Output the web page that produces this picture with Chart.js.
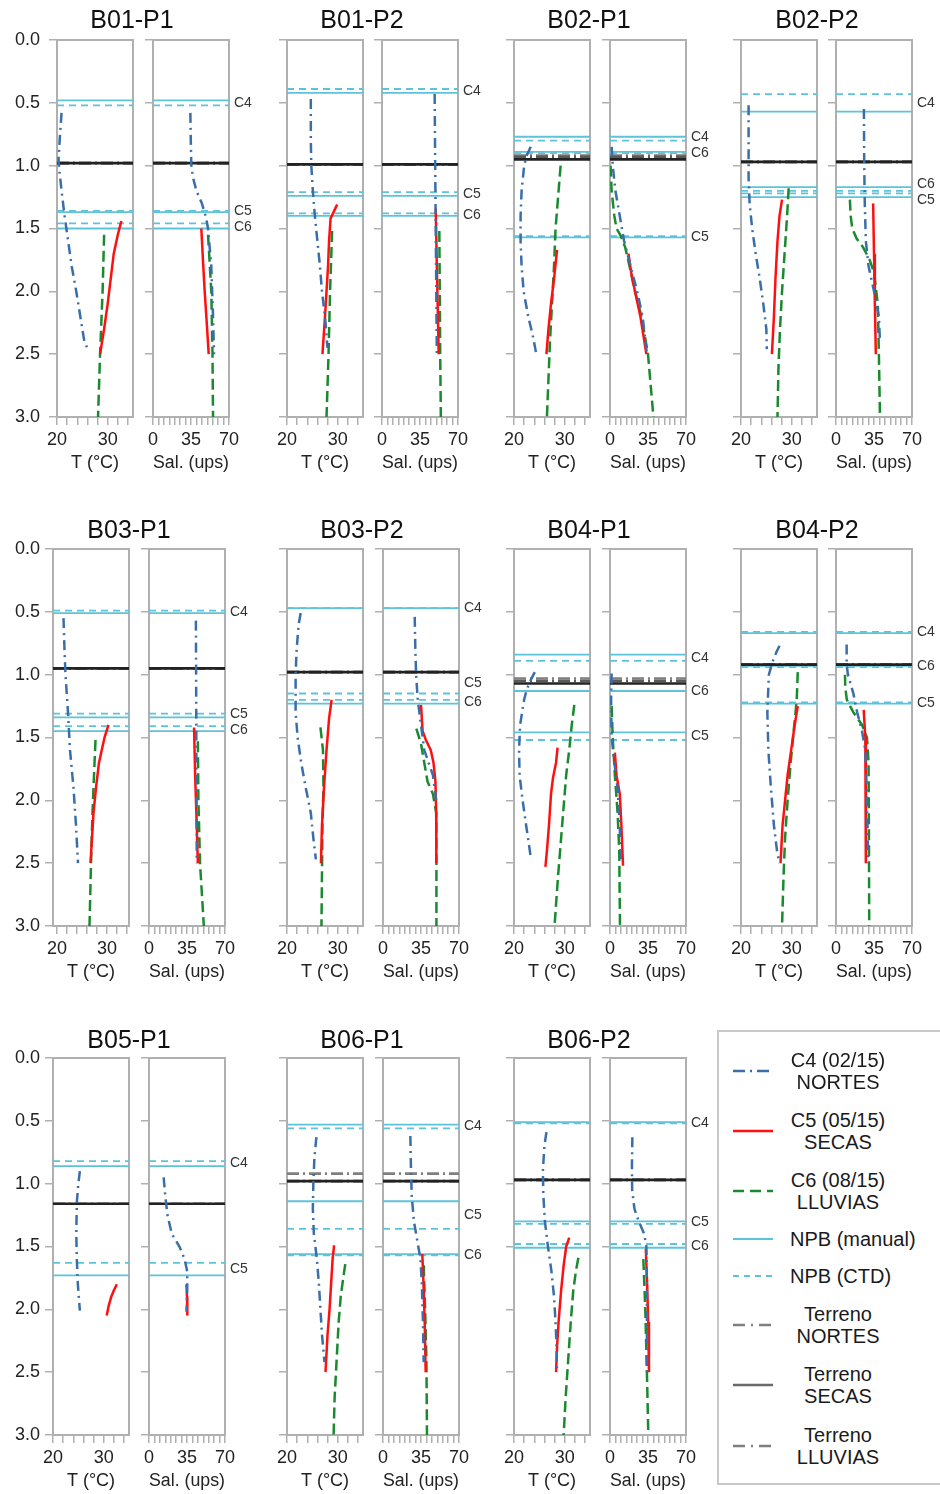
<!DOCTYPE html>
<html><head><meta charset="utf-8">
<script src="https://cdn.jsdelivr.net/npm/chart.js@4.4.1/dist/chart.umd.min.js"></script>
<style>
html,body{margin:0;padding:0;background:#fff;}
body{width:940px;height:1494px;position:relative;overflow:hidden;font-family:"Liberation Sans",Arial,sans-serif;}
canvas{position:absolute;}
.ttl{position:absolute;font-size:25px;color:#111;transform:translate(-50%,-50%);white-space:nowrap;}
#legend{position:absolute;left:717px;top:1030px;width:240px;height:455px;border:2px solid #c8c8c8;box-sizing:border-box;}
.lt{position:absolute;font-size:20px;color:#1a1a1a;line-height:22px;white-space:nowrap;}
.ls{position:absolute;}
</style></head><body>
<div id="legend"></div>
<script>
// ---------------- DATA ----------------
const PANELS = ['B01-P1','B01-P2','B02-P1','B02-P2','B03-P1','B03-P2','B04-P1','B04-P2','B05-P1','B06-P1','B06-P2'];
const CAMPAIGNS = ['C4','C5','C6'];
const DEPTH_TICKS = [0,0.5,1,1.5,2,2.5,3];
const T_TICKS = [20,22,24,26,28,30,32,34];
const T_LABELS = [20,30];
const S_TICKS = [0,5,10,15,20,25,30,35,40,45,50,55,60,65,70];
const S_LABELS = [0,35,70];
const T_RANGE = [[20,35],[20,35],[20,35],[20,35],[19.2,34.4],[20,35],[20,35],[20,35],[20,35],[20,35],[20,35]];
const S_RANGE = [0,70];

// NPB levels (m) per panel: [C4, C5, C6]
const npbManual = [[0.48,1.37,1.50],[0.42,1.24,1.40],[0.77,1.57,0.89],[0.57,1.25,1.17],[0.51,1.34,1.45],[0.47,0.98,1.23],[0.84,1.46,1.13],[0.67,1.23,0.93],[0.86,1.73,null],[0.53,1.14,1.56],[0.51,1.30,1.51]];
const npbCTD = [[0.52,1.36,1.46],[0.39,1.21,1.38],[0.80,1.56,0.90],[0.43,1.22,1.20],[0.49,1.31,1.41],[0.47,1.15,1.20],[0.89,1.52,1.13],[0.66,1.22,0.94],[0.82,1.63,null],[0.56,1.36,1.57],[0.52,1.32,1.48]];
// Terreno per panel: [NORTES, SECAS, LLUVIAS]
const terreno = [[0.98,0.98,0.98],[0.99,0.99,0.99],[0.92,0.95,0.93],[0.97,0.97,0.97],[0.95,0.95,0.95],[0.98,0.98,0.98],[1.03,1.07,1.05],[0.92,0.92,0.92],[1.16,1.16,null],[0.92,0.98,0.98],[0.97,0.97,0.97]];

// Profiles: [depth, value]
const T_NORTES = [
 [[0.58,20.9],[0.75,20.6],[0.95,20.3],[1.05,20.5],[1.2,20.9],[1.4,21.5],[1.6,22.2],[1.8,22.9],[2.0,23.8],[2.2,24.6],[2.4,25.4],[2.48,26.3]],
 [[0.47,24.7],[0.8,24.7],[1.0,24.8],[1.2,25.1],[1.4,25.5],[1.6,26.0],[1.8,26.5],[2.0,26.9],[2.2,27.5],[2.45,28.0]],
 [[0.85,23.3],[0.92,22.5],[1.0,22.0],[1.2,21.5],[1.4,21.3],[1.6,21.3],[1.8,21.5],[2.0,21.9],[2.2,22.8],[2.35,23.7],[2.5,24.4]],
 [[0.52,21.5],[0.8,21.5],[1.1,21.5],[1.3,21.7],[1.5,22.2],[1.7,22.9],[1.9,23.7],[2.1,24.4],[2.3,25.0],[2.46,25.1]],
 [[0.55,21.3],[0.8,21.5],[1.0,21.7],[1.3,22.2],[1.6,22.6],[1.9,23.3],[2.2,23.8],[2.5,24.2]],
 [[0.51,22.7],[0.6,22.3],[0.8,21.9],[1.0,21.7],[1.3,21.7],[1.5,22.1],[1.7,22.8],[1.9,23.7],[2.1,24.7],[2.3,25.2],[2.47,25.7]],
 [[0.98,24.1],[1.05,23.2],[1.12,22.5],[1.2,22.0],[1.4,21.2],[1.6,21.0],[1.8,21.1],[2.0,21.7],[2.2,22.4],[2.45,23.3]],
 [[0.77,27.6],[0.82,27.0],[0.9,26.2],[1.0,25.5],[1.3,25.2],[1.6,25.4],[1.9,25.9],[2.2,26.5],[2.4,27.1],[2.5,27.6]],
 [[0.9,25.3],[1.0,25.0],[1.15,24.7],[1.4,24.6],[1.6,24.7],[1.8,24.9],[2.01,25.3]],
 [[0.63,25.8],[0.8,25.4],[1.0,25.2],[1.2,25.1],[1.4,25.3],[1.6,25.9],[1.8,26.3],[2.0,26.6],[2.2,26.9],[2.42,27.4]],
 [[0.59,26.4],[0.7,26.0],[0.9,25.7],[1.1,25.8],[1.3,26.1],[1.5,26.7],[1.7,27.4],[1.9,27.9],[2.1,28.2],[2.3,28.4],[2.5,28.5]]
];
const T_SECAS = [
 [[1.44,32.7],[1.55,32.0],[1.7,31.2],[1.9,30.6],[2.1,30.0],[2.3,29.3],[2.5,28.5]],
 [[1.31,29.9],[1.36,29.3],[1.42,28.6],[1.6,28.3],[1.8,28.1],[2.0,27.8],[2.2,27.5],[2.5,27.0]],
 [[1.67,28.5],[1.9,27.9],[2.1,27.3],[2.3,26.8],[2.5,26.4]],
 [[1.27,28.1],[1.4,27.6],[1.6,27.2],[1.9,26.8],[2.2,26.5],[2.5,26.1]],
 [[1.4,30.3],[1.5,29.5],[1.7,28.4],[1.9,27.8],[2.1,27.3],[2.3,27.0],[2.5,26.7]],
 [[1.2,28.8],[1.35,28.3],[1.6,27.8],[1.9,27.3],[2.2,26.9],[2.5,26.7]],
 [[1.58,28.6],[1.7,28.3],[1.82,27.7],[1.95,27.3],[2.2,26.9],[2.4,26.5],[2.53,26.2]],
 [[1.25,31.2],[1.4,30.6],[1.6,29.9],[1.8,29.2],[2.0,28.7],[2.2,28.2],[2.5,27.8]],
 [[1.8,32.6],[1.85,32.0],[1.9,31.5],[1.97,31.0],[2.05,30.6]],
 [[1.49,29.3],[1.6,29.0],[1.8,28.7],[2.0,28.4],[2.2,28.0],[2.5,27.6]],
 [[1.43,30.9],[1.5,30.3],[1.65,29.8],[1.85,29.3],[2.1,28.8],[2.3,28.5],[2.5,28.3]]
];
const T_LLUVIAS = [
 [[1.55,29.3],[2.0,29.0],[2.5,28.5],[3.0,28.1]],
 [[1.52,28.9],[2.0,28.5],[2.5,28.2],[3.0,27.8]],
 [[1.0,29.2],[1.2,28.8],[1.5,28.2],[1.8,27.9],[2.1,27.5],[2.4,27.1],[2.7,26.8],[3.0,26.5]],
 [[1.18,29.4],[1.4,29.1],[1.7,28.6],[2.0,28.1],[2.3,27.7],[2.6,27.4],[3.0,27.2]],
 [[1.52,27.7],[1.8,27.4],[2.1,27.1],[2.5,26.8],[3.0,26.5]],
 [[1.42,26.6],[1.6,27.1],[1.9,27.2],[2.2,27.0],[2.6,26.9],[3.0,26.8]],
 [[1.24,31.9],[1.4,31.4],[1.6,30.9],[1.8,30.3],[2.0,29.9],[2.3,29.3],[2.6,28.7],[3.0,28.0]],
 [[0.98,31.2],[1.2,31.0],[1.45,30.4],[1.7,29.8],[2.0,29.2],[2.3,28.7],[2.6,28.4],[3.0,28.1]],
 null,
 [[1.64,31.5],[1.75,31.1],[1.9,30.6],[2.1,30.2],[2.4,29.8],[2.7,29.4],[3.0,29.2]],
 [[1.59,32.7],[1.7,32.2],[1.85,31.7],[2.1,31.2],[2.4,30.7],[2.7,30.2],[3.0,29.8]]
];
const S_NORTES = [
 [[0.58,34.4],[0.8,34.8],[1.0,35.3],[1.1,37],[1.2,40],[1.3,45],[1.4,48.5],[1.5,50.7],[1.8,53.7],[2.2,55.3],[2.5,56.2]],
 [[0.43,48.5],[1.0,49.0],[1.5,49.5],[2.0,50.0],[2.5,50.5]],
 [[0.85,1.5],[1.0,2.5],[1.2,5],[1.4,9],[1.6,13],[1.8,19],[2.0,25],[2.2,30],[2.5,34]],
 [[0.55,25.7],[1.0,26],[1.3,26.5],[1.6,27.5],[1.8,30],[2.0,35],[2.2,39.5],[2.4,40.5]],
 [[0.57,43.2],[1.0,43.4],[1.5,43.6],[2.0,43.8],[2.5,44.0]],
 [[0.54,29.2],[0.8,29.8],[1.0,30.5],[1.2,32],[1.4,35],[1.6,38],[1.7,42],[1.8,46],[2.0,49]],
 [[0.99,1.5],[1.2,1.0],[1.5,1.5],[1.7,4],[1.9,7],[2.2,9],[2.5,10]],
 [[0.76,9.8],[0.92,9.8],[1.0,11],[1.15,16],[1.3,19.5],[1.45,24],[1.6,27],[1.9,28.2],[2.2,29],[2.5,29.7]],
 [[0.95,13.5],[1.1,15],[1.25,17],[1.4,21],[1.5,28],[1.6,32.8],[1.7,35.2],[1.85,35.2],[2.02,34.5]],
 [[0.62,25.2],[0.9,25.8],[1.1,26.5],[1.3,28.5],[1.45,31.5],[1.6,34.5],[1.8,35.8],[2.1,36.8],[2.42,37.5]],
 [[0.63,20.6],[0.85,20.2],[1.05,20.4],[1.2,22.5],[1.3,26.5],[1.4,31.5],[1.5,33.5],[1.8,34],[2.2,34],[2.5,34]]
];
const S_SECAS = [
 [[1.5,44.5],[1.75,46],[2.0,47.6],[2.25,49.5],[2.5,51.3]],
 [[1.34,49.5],[1.8,50.5],[2.2,51.5],[2.5,52.2]],
 [[1.7,17],[1.85,19.5],[2.0,23],[2.2,28],[2.5,33.5]],
 [[1.3,34.2],[1.7,35],[2.1,35.8],[2.5,36.7]],
 [[1.42,41.5],[1.8,42.5],[2.2,44],[2.5,45]],
 [[1.24,35],[1.45,36.5],[1.52,39.5],[1.6,44],[1.7,46.5],[1.85,48.3],[2.1,49],[2.5,49.1]],
 [[1.62,4.5],[1.8,6],[1.95,9],[2.2,10.5],[2.52,12]],
 [[1.28,25.5],[1.5,27],[1.8,27.5],[2.2,27.5],[2.5,27.5]],
 [[1.8,34.5],[1.9,35.0],[2.05,35.3]],
 [[1.56,36.2],[1.8,37.3],[2.1,38.4],[2.5,39.3]],
 [[1.52,33],[1.8,34.2],[2.1,35.2],[2.5,35.9]]
];
const S_LLUVIAS = [
 [[1.55,50.7],[2.0,53.7],[2.5,54.8],[3.0,55.3]],
 [[1.52,52.8],[2.0,53.2],[2.5,53.6],[3.0,54.2]],
 [[1.0,0.5],[1.2,1.5],[1.4,4],[1.5,6],[1.56,10],[1.65,14],[1.8,18],[2.0,23],[2.2,29],[2.5,35],[2.75,37.5],[3.0,40]],
 [[1.27,12.8],[1.4,13.5],[1.5,15],[1.58,19],[1.65,25],[1.75,31],[1.85,35],[2.1,38.5],[2.5,39.5],[3.0,40.5]],
 [[1.53,45],[2.0,45.5],[2.5,47],[3.0,50.5]],
 [[1.43,30.7],[1.55,35],[1.7,38],[1.85,41],[1.95,46],[2.1,49],[2.5,49.2],[3.0,49.2]],
 [[1.25,1.5],[1.5,2.5],[1.8,4.5],[2.1,7],[2.4,8.5],[3.0,9.2]],
 [[1.0,8.3],[1.1,8.5],[1.2,10],[1.3,16],[1.4,24],[1.5,28.5],[1.7,30],[2.2,30.3],[3.0,30.6]],
 null,
 [[1.65,37.5],[2.0,38.8],[2.4,40],[3.0,40.5]],
 [[1.6,30.7],[2.0,32.5],[2.5,34],[3.0,35.3]]
];
const LEGEND_LABELS = [['C4 (02/15)','NORTES'],['C5 (05/15)','SECAS'],['C6 (08/15)','LLUVIAS'],['NPB (manual)'],['NPB (CTD)'],['Terreno','NORTES'],['Terreno','SECAS'],['Terreno','LLUVIAS']];

// ---------------- STYLE / LAYOUT ----------------
const FAM = '"Liberation Sans", Arial, sans-serif';
const C_N = '#3a6ea8', C_S = '#ff1010', C_L = '#1a8a2e', C_NPB = '#5cc3db';
const TER_COL = ['#7f7f7f','#222222','#5a5a5a'];
const GRID = '#b0b0b0';
const DASH_N = [10,5,2,5], DASH_L = [11,5], DASH_CTD = [7,5], DASH_TER = [12,4,2,4];
const ROW_TOP = [40,549,1058];
const BOX_W = 76, BOX_H = 377, TP = 26, BH = 57;
const T_LEFT = [[57,287,514,741],[53,287,514,741],[53,287,514]];
const S_LEFT = [[153,382,610,836],[149,383,610,836],[149,383,610]];
const TITLE_X = [[132,362,589,817],[129,362,589,817],[129,362,589]];
const TITLE_Y = [19,529,1039];

Chart.defaults.font.family = FAM;

const boxPlugin = {
  id: 'boxframe',
  beforeDatasetsDraw(chart) {
    const {ctx, chartArea: a} = chart;
    ctx.save();
    ctx.strokeStyle = GRID; ctx.lineWidth = 2;
    ctx.strokeRect(a.left, a.top, a.right - a.left, a.bottom - a.top);
    ctx.restore();
  }
};

function cLabelPlugin(p) {
  return {
    id: 'clabels',
    afterDraw(chart) {
      const ys = chart.scales.y, a = chart.chartArea, ctx = chart.ctx;
      const items = [];
      CAMPAIGNS.forEach((c, k) => {
        const vals = [npbManual[p][k], npbCTD[p][k]].filter(v => v != null);
        if (!vals.length) return;
        const d = vals.reduce((s, v) => s + v, 0) / vals.length;
        items.push({c, y: ys.getPixelForValue(d)});
      });
      items.sort((u, v) => u.y - v.y);
      const gap = 16;
      for (let it = 0; it < 10; it++) {
        for (let i = 1; i < items.length; i++) {
          if (items[i].y - items[i-1].y < gap) {
            const m = (items[i].y + items[i-1].y) / 2;
            items[i-1].y = m - gap/2; items[i].y = m + gap/2;
          }
        }
      }
      ctx.save();
      ctx.font = '14px ' + FAM; ctx.fillStyle = '#333';
      ctx.textBaseline = 'middle'; ctx.textAlign = 'left';
      items.forEach(o => ctx.fillText(o.c, a.right + 5, o.y));
      ctx.restore();
    }
  };
}

function hline(v, xr, color, dash, width, order) {
  return {data: [{x: xr[0], y: v}, {x: xr[1], y: v}], borderColor: color, borderDash: dash, borderWidth: width, order: order, pointRadius: 0, fill: false};
}
function prof(arr, color, dash, width) {
  return {data: arr ? arr.map(([d, v]) => ({x: v, y: d})) : [], borderColor: color, borderDash: dash, borderWidth: width, order: 0, pointRadius: 0, fill: false};
}

function makeChart(p, kind, boxLeft, boxTop, lw, rw, yLabels, ypad) {
  const cv = document.createElement('canvas');
  const w = lw + BOX_W + rw, h = TP + BOX_H + BH;
  cv.width = w; cv.height = h;
  cv.style.left = (boxLeft - lw) + 'px'; cv.style.top = (boxTop - TP) + 'px';
  cv.style.width = w + 'px'; cv.style.height = h + 'px';
  document.body.appendChild(cv);
  const isT = kind === 'T';
  const xr = isT ? T_RANGE[p] : S_RANGE;
  const ds = [];
  if (isT) {
    ds.push(prof(T_NORTES[p], C_N, DASH_N, 2.5), prof(T_SECAS[p], C_S, [], 2.5), prof(T_LLUVIAS[p], C_L, DASH_L, 2.5));
  } else {
    ds.push(prof(S_NORTES[p], C_N, DASH_N, 2.5), prof(S_SECAS[p], C_S, [], 2.5), prof(S_LLUVIAS[p], C_L, DASH_L, 2.5));
  }
  [1, 2, 0].forEach(k => { if (terreno[p][k] != null) ds.push(hline(terreno[p][k], xr, TER_COL[k], k === 1 ? [] : DASH_TER, 2.6, 1 + (k===1?0:1))); });
  [0, 1, 2].forEach(k => {
    if (npbManual[p][k] != null) ds.push(hline(npbManual[p][k], xr, C_NPB, [], 1.8, 4));
    if (npbCTD[p][k] != null) ds.push(hline(npbCTD[p][k], xr, C_NPB, DASH_CTD, 1.8, 4));
  });
  const xt = isT ? T_TICKS : S_TICKS, xl = isT ? T_LABELS : S_LABELS;
  const plugins = [boxPlugin];
  if (!isT) plugins.push(cLabelPlugin(p));
  new Chart(cv, {
    type: 'line',
    data: {datasets: ds},
    plugins: plugins,
    options: {
      responsive: false, animation: false, devicePixelRatio: 1,
      layout: {padding: {top: TP, right: rw, left: 0, bottom: 0}},
      plugins: {legend: {display: false}, tooltip: {enabled: false}, title: {display: false}},
      elements: {point: {radius: 0}, line: {tension: 0}},
      scales: {
        x: {
          type: 'linear', position: 'bottom', min: xr[0], max: xr[1],
          afterBuildTicks: s => { s.ticks = xt.map(v => ({value: v})); },
          afterFit: s => { s.height = BH; },
          ticks: {autoSkip: false, maxRotation: 0, minRotation: 0, padding: 4, color: '#222', font: {size: 18, family: FAM},
                  callback: v => xl.includes(v) ? String(v) : ''},
          grid: {display: true, drawOnChartArea: false, drawTicks: true, tickLength: 8, color: GRID, lineWidth: 1.5},
          border: {display: true, color: GRID, width: 2},
          title: {display: true, text: isT ? 'T (°C)' : 'Sal. (ups)', color: '#222', font: {size: 18, family: FAM}, padding: 0}
        },
        y: {
          type: 'linear', position: 'left', reverse: true, min: 0, max: 3,
          afterBuildTicks: s => { s.ticks = DEPTH_TICKS.map(v => ({value: v})); },
          afterFit: s => { s.width = lw; },
          ticks: {autoSkip: false, padding: ypad, color: '#222', font: {size: 18, family: FAM},
                  callback: v => yLabels ? Number(v).toFixed(1) : ''},
          grid: {display: true, drawOnChartArea: false, drawTicks: true, tickLength: 8, color: GRID, lineWidth: 1.5},
          border: {display: true, color: GRID, width: 2}
        }
      }
    }
  });
}

PANELS.forEach((name, p) => {
  const r = p < 4 ? 0 : (p < 8 ? 1 : 2);
  const c = p - r * 4;
  const top = ROW_TOP[r];
  const tl = T_LEFT[r][c], sl = S_LEFT[r][c];
  if (c === 0) makeChart(p, 'T', tl, top, tl, 14, true, tl - 48);
  else makeChart(p, 'T', tl, top, 20, 14, false, 0);
  makeChart(p, 'S', sl, top, 20, 40, false, 0);
  const t = document.createElement('div');
  t.className = 'ttl'; t.textContent = name;
  t.style.left = TITLE_X[r][c] + 'px'; t.style.top = TITLE_Y[r] + 'px';
  document.body.appendChild(t);
});

// ---------------- LEGEND ----------------
const LEG_Y = [1071, 1131, 1191, 1239, 1276, 1325, 1385, 1446];
const LEG_STYLE = [
  {c: C_N, d: '12 5 2 5', w: 2.5}, {c: C_S, d: '', w: 2.5}, {c: C_L, d: '11 6', w: 2.5},
  {c: C_NPB, d: '', w: 1.8}, {c: C_NPB, d: '6 5', w: 1.8},
  {c: TER_COL[0], d: '12 6 2 6', w: 2.5}, {c: '#6a6a6a', d: '', w: 2.5}, {c: TER_COL[0], d: '12 6 2 6', w: 2.5}
];
LEGEND_LABELS.forEach((lab, i) => {
  const y = LEG_Y[i], st = LEG_STYLE[i];
  const svgNS = 'http://www.w3.org/2000/svg';
  const svg = document.createElementNS(svgNS, 'svg');
  svg.setAttribute('width', '44'); svg.setAttribute('height', '8');
  svg.setAttribute('class', 'ls');
  svg.style.left = '733px'; svg.style.top = (y - 4) + 'px';
  const ln = document.createElementNS(svgNS, 'line');
  ln.setAttribute('x1', '0'); ln.setAttribute('x2', '40'); ln.setAttribute('y1', '4'); ln.setAttribute('y2', '4');
  ln.setAttribute('stroke', st.c); ln.setAttribute('stroke-width', st.w);
  if (st.d) ln.setAttribute('stroke-dasharray', st.d);
  svg.appendChild(ln);
  document.body.appendChild(svg);
  const div = document.createElement('div');
  div.className = 'lt';
  if (lab.length === 2) {
    div.style.left = '768px'; div.style.width = '140px'; div.style.textAlign = 'center';
    div.style.top = (y - 22) + 'px';
    div.innerHTML = lab[0] + '<br>' + lab[1];
  } else {
    div.style.left = '790px';
    div.style.top = (y - 11) + 'px';
    div.textContent = lab[0];
  }
  document.body.appendChild(div);
});
</script>
</body></html>
